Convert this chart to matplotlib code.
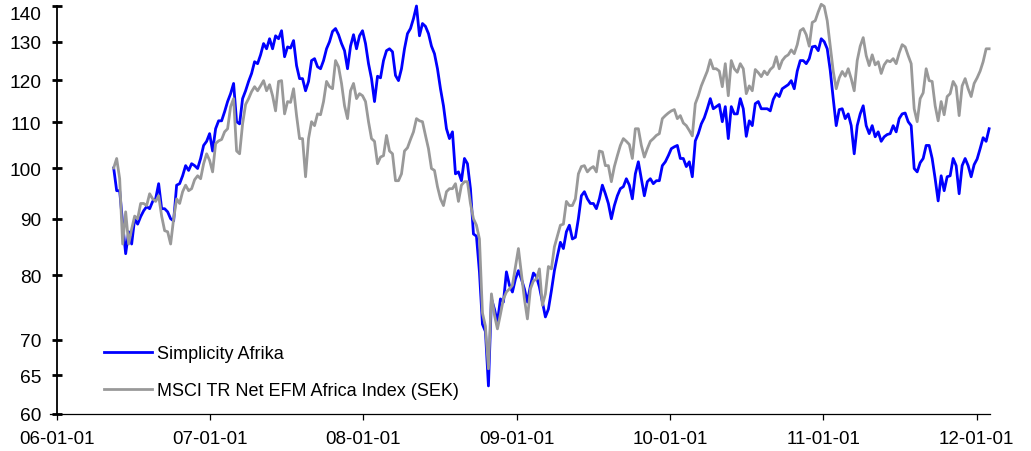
import matplotlib
matplotlib.use('Agg')
import numpy as np
import pandas as pd
import matplotlib.pyplot as plt
import matplotlib.dates as mdates
from matplotlib.ticker import FixedLocator, NullLocator

plt.rcParams['font.family'] = ['Liberation Sans', 'DejaVu Sans']

# indexed series, roughly weekly observations
start_date = '2006-05-16'
end_date = '2012-01-31'

simplicity = [
    100.0, 95.4, 95.4, 89.1, 83.7, 87.6, 85.4, 90.0, 89.0, 90.4,
    91.5, 92.3, 91.9, 93.3, 93.8, 96.8, 91.9, 91.9, 91.3, 90.0,
    89.6, 96.5, 96.8, 98.4, 100.5, 99.5, 100.9, 100.5, 99.9, 102.0,
    104.8, 105.7, 107.4, 103.6, 108.5, 110.3, 110.3, 112.4, 114.8, 116.7,
    119.2, 110.1, 109.6, 115.5, 117.4, 119.7, 121.7, 124.7, 124.2, 126.5,
    129.5, 128.1, 130.8, 128.1, 131.6, 130.8, 133.0, 126.0, 128.6, 128.3,
    130.3, 123.7, 120.4, 120.4, 117.4, 119.7, 125.0, 125.5, 123.4, 122.9,
    125.0, 128.1, 130.0, 132.8, 133.6, 131.9, 129.5, 127.6, 122.9, 128.8,
    131.9, 128.1, 131.6, 133.0, 129.5, 124.2, 120.4, 114.8, 121.0, 120.6,
    125.0, 127.6, 128.1, 127.3, 121.2, 119.9, 122.9, 128.1, 132.2, 133.6,
    136.4, 140.0, 131.6, 135.0, 134.2, 132.2, 128.8, 126.8, 122.9, 117.9,
    113.8, 108.5, 106.3, 107.8, 98.8, 99.2, 97.4, 102.0, 100.9, 95.8,
    87.2, 86.8, 80.6, 72.3, 71.2, 63.6, 76.2, 74.6, 72.6, 76.2,
    75.7, 80.6, 78.4, 77.3, 79.4, 80.8, 79.4, 77.8, 75.7, 78.3,
    80.4, 79.8, 78.1, 75.7, 73.4, 74.6, 77.5, 80.8, 83.3, 85.7,
    84.6, 87.6, 88.8, 86.3, 86.6, 90.0, 94.4, 95.2, 93.8, 92.9,
    92.9, 91.9, 93.8, 96.5, 94.8, 92.9, 90.0, 92.5, 94.4, 95.8,
    96.2, 97.8, 96.5, 93.8, 98.8, 101.3, 97.8, 94.4, 97.2, 97.8,
    96.8, 97.4, 97.4, 100.5, 101.3, 102.6, 104.1, 104.5, 104.8, 102.0,
    102.0, 100.3, 101.3, 98.2, 105.8, 107.4, 109.6, 111.0, 113.1, 115.5,
    113.1, 113.6, 114.1, 110.1, 113.6, 106.3, 113.6, 111.9, 111.9, 115.5,
    113.1, 106.8, 110.3, 109.2, 114.3, 114.8, 113.1, 113.1, 113.1, 112.6,
    115.3, 116.7, 116.0, 117.9, 118.4, 118.9, 119.9, 117.9, 122.3, 125.0,
    125.0, 124.2, 125.5, 128.6, 128.8, 127.6, 130.8, 130.0, 128.1, 122.5,
    115.5, 109.2, 112.9, 113.1, 110.8, 111.9, 109.2, 103.0, 109.2, 111.9,
    113.8, 109.2, 107.4, 109.2, 106.7, 107.8, 105.7, 106.7, 107.2, 107.4,
    109.2, 107.8, 110.8, 111.9, 112.1, 110.1, 109.2, 99.9, 99.2, 101.1,
    102.0, 104.8, 104.8, 102.0, 97.8, 93.4, 98.4, 95.4, 98.2, 98.4,
    102.0, 100.5, 94.8, 100.5, 102.0, 100.5, 98.2, 100.7, 101.9, 104.1,
    106.5, 105.7, 108.5,
]

msci = [
    100.0, 102.0, 97.8, 85.4, 91.3, 85.4, 88.1, 90.5, 90.0, 92.9,
    92.9, 92.5, 94.8, 93.8, 93.3, 94.4, 90.5, 87.8, 87.6, 85.4,
    90.0, 93.8, 92.9, 95.2, 96.5, 95.4, 95.8, 97.6, 98.4, 97.8,
    100.9, 103.0, 101.6, 99.2, 105.2, 105.8, 106.1, 107.8, 108.5, 113.6,
    115.5, 103.6, 103.0, 109.6, 114.1, 115.5, 117.2, 118.4, 117.4, 118.6,
    119.9, 117.4, 118.9, 116.2, 112.6, 119.7, 119.9, 111.9, 114.8, 114.6,
    117.9, 111.5, 106.3, 106.3, 98.2, 106.3, 110.1, 109.2, 111.9, 111.7,
    114.8, 119.7, 118.4, 117.9, 125.0, 123.4, 119.2, 113.8, 110.8, 117.4,
    119.2, 115.5, 116.7, 116.2, 114.8, 110.1, 106.3, 105.7, 100.9, 102.3,
    102.6, 107.0, 103.6, 103.0, 97.4, 97.4, 98.8, 103.6, 104.3, 106.1,
    107.8, 110.8, 110.3, 110.1, 107.0, 104.1, 99.9, 99.5, 96.2, 93.8,
    92.5, 95.2, 95.8, 95.8, 96.8, 93.3, 96.5, 97.2, 97.2, 92.9,
    90.0, 88.8, 86.3, 74.0, 72.0, 65.9, 77.0, 73.7, 71.6, 73.8,
    76.2, 77.3, 77.8, 78.4, 81.5, 84.6, 80.3, 76.2, 73.1, 77.8,
    79.1, 79.4, 81.1, 75.2, 77.0, 81.5, 81.1, 84.9, 86.8, 88.8,
    89.0, 93.3, 92.5, 92.5, 93.8, 98.8, 100.3, 100.5, 99.2, 99.9,
    100.3, 99.2, 103.6, 103.4, 100.5, 100.5, 97.2, 100.3, 102.6, 104.8,
    106.3, 105.7, 105.0, 102.0, 108.5, 108.5, 104.8, 102.3, 104.1, 105.7,
    106.3, 107.0, 107.4, 110.8, 111.5, 112.1, 112.6, 112.9, 110.8, 111.5,
    109.8, 109.2, 108.1, 106.9, 114.3, 116.2, 118.6, 120.4, 122.3, 125.2,
    122.9, 122.9, 122.3, 118.4, 124.2, 116.2, 125.0, 122.9, 122.0, 124.2,
    122.9, 116.7, 118.6, 117.4, 122.7, 121.9, 120.9, 122.3, 121.4, 122.7,
    123.4, 126.0, 122.9, 125.0, 126.0, 126.5, 127.8, 126.8, 129.2, 133.0,
    133.6, 131.9, 128.8, 135.3, 135.8, 138.3, 140.5, 139.9, 135.8, 128.8,
    122.3, 117.9, 120.6, 122.2, 121.0, 122.9, 120.4, 117.4, 125.0, 128.8,
    131.1, 126.3, 123.7, 126.5, 123.9, 124.7, 121.7, 123.9, 125.0, 124.7,
    125.5, 124.2, 127.0, 129.2, 128.6, 126.3, 124.2, 113.1, 110.1, 115.5,
    116.9, 122.9, 119.9, 119.7, 113.8, 110.3, 114.8, 111.7, 116.0, 116.7,
    119.7, 118.4, 111.5, 118.6, 120.4, 117.9, 116.0, 119.2, 120.6, 122.3,
    124.7, 128.1, 128.1,
]

series_labels = ['Simplicity Afrika', 'MSCI TR Net EFM Africa Index (SEK)']
yticks = [60, 65, 70, 80, 90, 100, 110, 120, 130, 140]
year_ticks = pd.date_range('2006-01-01', '2012-01-01', freq='YS')

dates = pd.date_range(start_date, end_date, periods=len(simplicity))

fig = plt.figure(figsize=(10.31, 4.52), dpi=100)
ax = fig.add_axes([0.0553, 0.0819, 0.9049, 0.9026])

ax.plot(dates, simplicity, color='#0000ff', lw=2.0, label=series_labels[0], clip_on=False)
ax.plot(dates, msci, color='#999999', lw=2.0, label=series_labels[1], clip_on=False)

ax.set_yscale('log')
ax.set_ylim(60, 140)
ax.yaxis.set_major_locator(FixedLocator(yticks))
ax.yaxis.set_minor_locator(NullLocator())
ax.set_yticklabels([str(v) for v in yticks])

ax.set_xlim(pd.Timestamp('2006-01-01'), pd.Timestamp('2012-02-02'))
ax.set_xticks(year_ticks)
ax.xaxis.set_major_formatter(mdates.DateFormatter('%y-%m-%d'))

for s in ['top', 'right']:
    ax.spines[s].set_visible(False)
ax.spines['left'].set_linewidth(1.3)
ax.spines['bottom'].set_linewidth(0.9)
ax.spines['bottom'].set_bounds(mdates.date2num(pd.Timestamp('2005-12-15')),
                               mdates.date2num(pd.Timestamp('2012-02-02')))

ax.tick_params(axis='y', direction='inout', length=7, width=2, pad=8, labelsize=13.8)
ax.tick_params(axis='x', direction='out', length=4.5, width=0.9, pad=7, labelsize=13.5)
ax.get_yticklabels()[-1].set_va('top')

leg = ax.legend(loc='upper left', bbox_to_anchor=(0.0504, 0.168), frameon=False,
                fontsize=13, handlelength=2.66, handletextpad=0.28,
                labelspacing=1.1, borderpad=0, borderaxespad=0)

fig.savefig('out.png', dpi=100)
